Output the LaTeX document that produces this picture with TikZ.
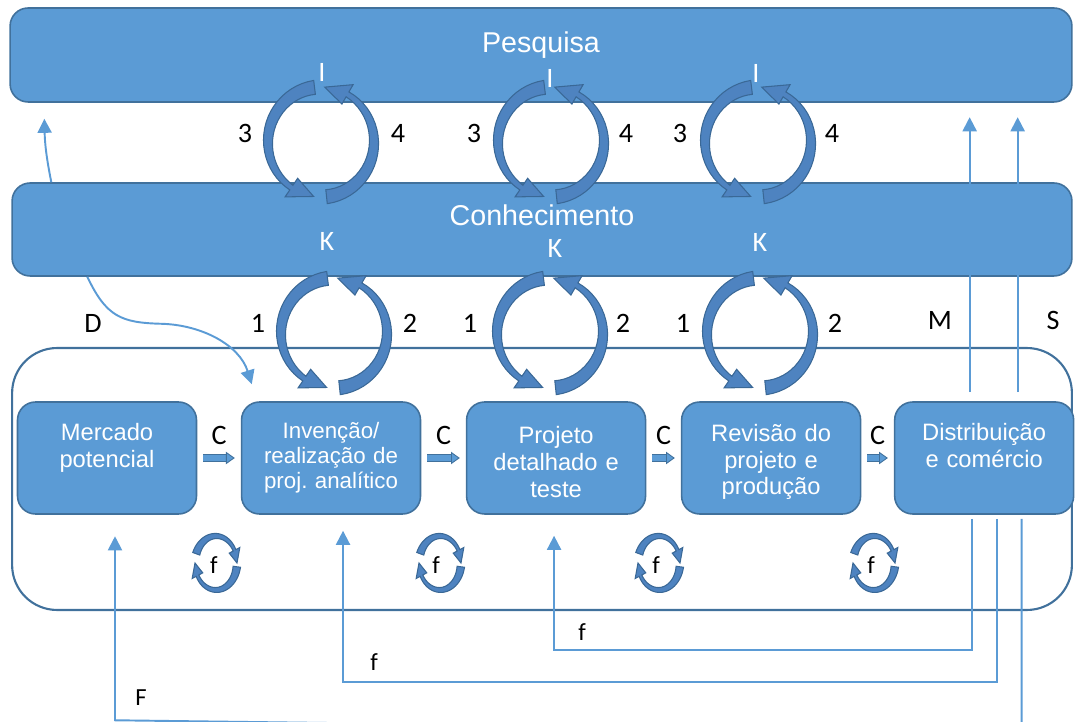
\documentclass[tikz,border=0pt]{standalone}
\usepackage{fontspec}
\setmainfont{Liberation Sans}
\newfontfamily\calfont{Carlito}
\usetikzlibrary{arrows.meta, positioning, calc}
\definecolor{boxfill}{HTML}{5B9BD5}
\definecolor{boxline}{HTML}{41719C}
\definecolor{cycfill}{HTML}{4E83C0}
\definecolor{cycline}{HTML}{3A6896}
\tikzstyle{band} = [rectangle, rounded corners=0.36cm, draw=boxline, fill=boxfill, line width=0.9pt, text=white, font=\fontsize{16.3}{19}\selectfont]
\tikzstyle{stepbox} = [rectangle, rounded corners=0.36cm, minimum width=3.58cm, minimum height=2.24cm, text width=3.2cm, align=center, draw=boxline, fill=boxfill, line width=0.9pt, text=white, font=\fontsize{13.5}{15.3}\selectfont]
\tikzstyle{frame} = [rectangle, rounded corners=0.9cm, minimum width=21.2cm, minimum height=5.24cm, draw=boxline, line width=1.2pt]
\tikzstyle{lab} = [font=\calfont\fontsize{16}{19}\selectfont, inner sep=0pt]
\tikzstyle{wlab} = [lab, text=white]
\tikzstyle{flab} = [font=\calfont\fontsize{14}{17}\selectfont, inner sep=0pt]
\tikzstyle{fb} = [line width=1.1pt, draw=boxfill, -{Triangle[length=8pt,width=8pt]}]
\tikzstyle{carrow} = [draw=boxline, line width=0.5pt, double=boxfill, double distance=3pt, -{Triangle[length=5pt,width=7pt,fill=boxfill]}, shorten <=0.12cm, shorten >=0.12cm]
\tikzstyle{cyc} = [fill=cycfill, draw=cycline, line width=0.6pt]
% tapered arc arrow: centre x, centre y, x radius, y radius, tail angle, head angle, tip angle, tail width
\newcommand{\cycarrow}[8]{%
  \filldraw[cyc] plot[domain=#5:#6, samples=25] ({#1+(#3+(#8*(1-0.6*((\x)-(#5))/((#6)-(#5))))/2)*cos(\x)}, {#2+(#4+(#8*(1-0.6*((\x)-(#5))/((#6)-(#5))))/2)*sin(\x)})
  -- ({#1+(#3+0.8*#8)*cos(#6)}, {#2+(#4+0.8*#8)*sin(#6)})
  -- ({#1+#3*cos(#7)}, {#2+#4*sin(#7)})
  -- ({#1+(#3-0.8*#8)*cos(#6)}, {#2+(#4-0.8*#8)*sin(#6)})
  -- plot[domain=#6:#5, samples=25] ({#1+(#3-(#8*(1-0.6*((\x)-(#5))/((#6)-(#5))))/2)*cos(\x)}, {#2+(#4-(#8*(1-0.6*((\x)-(#5))/((#6)-(#5))))/2)*sin(\x)})
  -- cycle;}
\newcommand{\cycpair}[2]{\cycarrow{#1}{#2}{53}{55}{-97}{-236}{-262}{14}\cycarrow{#1}{#2}{53}{55}{84}{-60}{-86}{14}}
\newcommand{\floop}[2]{\cycarrow{#1}{#2}{21}{27}{-160}{-28}{0}{7.5}\cycarrow{#1}{#2}{21}{27}{8}{152}{180}{7.5}}

\begin{document}
\begin{tikzpicture}[x=0.02cm, y=-0.02cm]
\useasboundingbox (0,0) rectangle (1075,722);

\node (pes) [band, minimum width=21.24cm, minimum height=1.88cm, text height=12pt, text depth=15pt] at (541,55) {Pesquisa};
\node (con) [band, minimum width=21.2cm, minimum height=1.86cm, text height=12pt, text depth=16.8pt] at (542,229.5) {Conhecimento};

\node (chain) [frame] at (542,479) {};

\node (merc) [stepbox, text height=9.9pt, text depth=29.5pt] at (107,458) {Mercado\\potencial};
\node (inv) [stepbox, right=0.87cm of merc, font=\fontsize{12.7}{14.2}\selectfont] {Invenção/\\realização de\\proj.\ analítico};
\node (proj) [stepbox, right=0.89cm of inv, text height=9.9pt, text depth=26pt] {Projeto\\detalhado e\\teste};
\node (rev) [stepbox, right=0.69cm of proj, text height=9.9pt, text depth=29pt] {Revisão do\\projeto e\\produção};
\node (dist) [stepbox, right=0.65cm of rev, text height=9.9pt, text depth=29.5pt] {Distribuição\\e comércio};

\draw [carrow] (merc) -- node[lab, yshift=13pt] {C} (inv);
\draw [carrow] (inv) -- node[lab, yshift=13pt] {C} (proj);
\draw [carrow] (proj) -- node[lab, yshift=13pt] {C} (rev);
\draw [carrow] (rev) -- node[lab, yshift=13pt] {C} (dist);

% links to the research and knowledge bands
\draw [fb] ($(con.north west)+(40,0)$) to[bend left=5] ($(pes.south west)+(35,16)$);
\draw [fb] ($(con.south west)+(76,0)$) .. controls ($(con.south west)+(95,40)$) and ($(con.south west)+(110,46)$) .. ($(con.south west)+(150,47)$) .. controls ($(con.south west)+(190,48)$) and ($(con.south west)+(228,68)$) .. ($(inv.north west)+(11,-17)$);
\draw [fb] ($(dist.north)+(-14.5,-9)$) -- ++(0,-275);
\draw [fb] ($(dist.north)+(33.5,-9)$) -- ++(0,-275);

% feedback loops
\draw [fb] ($(dist.south)+(-12.5,4)$) |- ($(proj.south)+(-2,135)$) -- ++(0,-114);
\draw [fb] ($(dist.south)+(12.5,4)$) |- ($(inv.south)+(12,167)$) -- ++(0,-151);
\draw [fb] ($(dist.south)+(37.5,4)$) -- ++(0,213) -- ($(merc.south)+(8,205.5)$) -- ++(0,-184);

\cycpair{321}{142}
\cycpair{551}{142}
\cycpair{758}{142}
\cycpair{334}{333}
\cycpair{550}{333}
\cycpair{760}{333}

\floop{216}{563}
\floop{440}{563}
\floop{659}{563}
\floop{874}{563}

\node (ia) [wlab] at (322,72) {I};
\node (ib) [wlab] at (550,78) {I};
\node (ic) [wlab] at (756,73) {I};
\node (ka) [wlab] at (327,241) {K};
\node (kb) [wlab] at (555,248) {K};
\node (kc) [wlab] at (760,242) {K};

\node (ta) [lab] at (245,133) {3};
\node (fa) [lab] at (398,133) {4};
\node (tb) [lab] at (474,133) {3};
\node (fb4) [lab] at (626,133) {4};
\node (tc) [lab] at (680,133) {3};
\node (fc) [lab] at (832,133) {4};
\node (oa) [lab] at (258,323) {1};
\node (wa) [lab] at (410,323) {2};
\node (ob) [lab] at (470,323) {1};
\node (wb) [lab] at (623,323) {2};
\node (oc) [lab] at (683,323) {1};
\node (wc) [lab] at (835,323) {2};

\node (dlab) [lab] at (93,323) {D};
\node (mlab) [lab] at (940,320) {M};
\node (slab) [lab] at (1053,320) {S};

\node (fl1) [flab] at (214,565) {f};
\node (fl2) [flab] at (436,565) {f};
\node (fl3) [flab] at (656,565) {f};
\node (fl4) [flab] at (871,565) {f};
\node (fl5) [flab] at (582,632) {f};
\node (fl6) [flab] at (374,662) {f};
\node (flF) [flab] at (141,698) {F};
\end{tikzpicture}
\end{document}
